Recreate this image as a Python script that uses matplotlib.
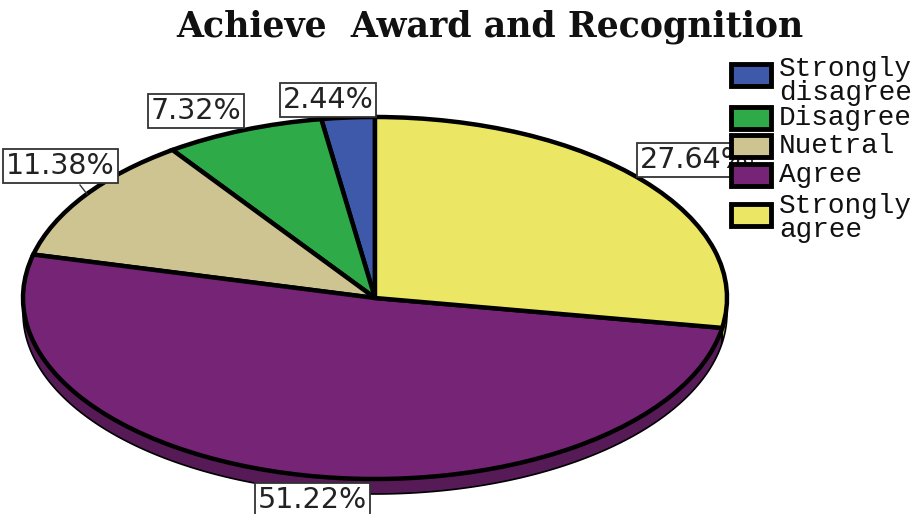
import numpy as np
import matplotlib
matplotlib.use("Agg")
import matplotlib.pyplot as plt
from matplotlib.patches import Polygon, Rectangle

title = "Achieve  Award and Recognition"
categories = ["Strongly\ndisagree", "Disagree", "Nuetral", "Agree", "Strongly\nagree"]
percents = [2.44, 7.32, 11.38, 51.22, 27.64]
colors = ["#3e58aa", "#2faa48", "#cdc491", "#762476", "#ebe664"]
side_colors = ["#2c3f7a", "#217a33", "#948d68", "#561a56", "#b0ab4a"]

W, H = 923, 514
CX, CY = 375, 298      # pie centre (pixels)
RX, RY = 352, 181      # ellipse radii (pixels)
DEPTH = 15             # thickness of the pie rim (pixels)


def px(x, y):
    """Pixel position -> data coordinates of the full-figure axes."""
    return (x - CX) / RX, (CY - y) / RY


fig = plt.figure(figsize=(W / 100, H / 100), dpi=100)
ax = fig.add_axes([0, 0, 1, 1])
wedges, _ = ax.pie(percents, colors=colors, startangle=90, counterclock=True,
                   wedgeprops=dict(edgecolor="black", linewidth=3.2, zorder=3))
ax.set_aspect("auto")
ax.set_xlim(-CX / RX, (W - CX) / RX)
ax.set_ylim((CY - H) / RY, CY / RY)
ax.axis("off")

# rim of the pie: visible part of each slice on the lower half
d = DEPTH / RY
for w, sc in zip(wedges, side_colors):
    for k in (0, 360):
        lo = max(w.theta1, 180 + k)
        hi = min(w.theta2, 360 + k)
        if hi <= lo:
            continue
        t = np.radians(np.linspace(lo, hi, 200))
        top = np.column_stack([np.cos(t), np.sin(t)])
        bot = np.column_stack([np.cos(t[::-1]), np.sin(t[::-1]) - d])
        ax.add_patch(Polygon(np.vstack([top, bot]), closed=True, fc=sc,
                             ec="black", lw=1.2, zorder=2))

# percentage labels (same order as percents)
label_font = dict(family="DejaVu Sans", size=20.5, color="#222222")
box = dict(boxstyle="square,pad=0.1", fc="white", ec="#333333", lw=1.3)
label_pos = [
    ((328, 100), "center"),
    ((196, 111), "center"),
    ((6, 166), "left"),
    ((258, 500), "left"),
    ((640, 160), "left"),
]
for p, ((x, y), ha) in zip(percents, label_pos):
    ax.text(*px(x, y), f"{p:.2f}%", ha=ha, va="center", bbox=box,
            zorder=5, **label_font)

# leader line for the neutral slice label
(x0, y0), (x1, y1) = px(80, 185), px(87, 194)
ax.plot([x0, x1], [y0, y1], color="#333333", lw=1, zorder=4)

# legend
leg_rows = [75, 117.5, 145.5, 174.5, 214.5]
leg_text_y = [81, 118, 146, 175, 218]
for cat, col, ry, ty in zip(categories, colors, leg_rows, leg_text_y):
    x0, y0 = px(731, ry + 11)
    x1, y1 = px(771, ry - 11)
    ax.add_patch(Rectangle((x0, y0), x1 - x0, y1 - y0, fc=col, ec="black",
                           lw=3.5, zorder=6))
    ax.text(*px(779, ty), cat, ha="left", va="center", family="Liberation Mono",
            size=20, color="#111111", linespacing=0.88, zorder=6)

fig.text(490 / W, 1 - 37 / H, title, ha="center", va="baseline",
         family="DejaVu Serif", weight="bold", size=25, color="#111111")

fig.savefig("out.png", dpi=100, facecolor="white")
